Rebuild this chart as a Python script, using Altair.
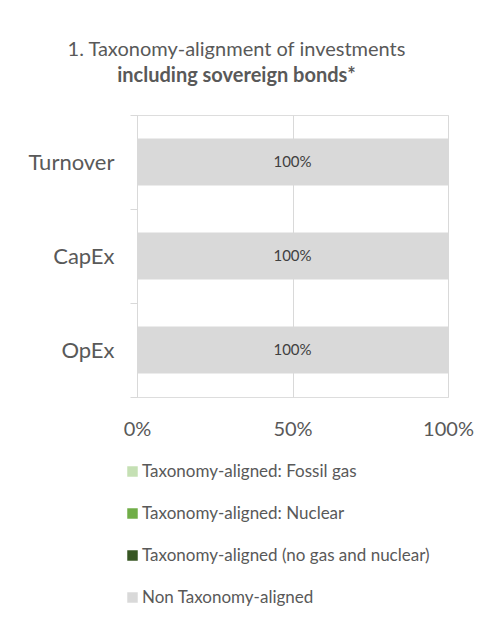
import altair as alt
import pandas as pd

metrics = ["Turnover", "CapEx", "OpEx"]
categories = [
    "Taxonomy-aligned: Fossil gas",
    "Taxonomy-aligned: Nuclear",
    "Taxonomy-aligned (no gas and nuclear)",
    "Non Taxonomy-aligned",
]
colors = ["#C5E0B4", "#70AD47", "#375623", "#D9D9D9"]

fossil_gas = [0, 0, 0]
nuclear = [0, 0, 0]
aligned_other = [0, 0, 0]
non_aligned = [100, 100, 100]

series = [fossil_gas, nuclear, aligned_other, non_aligned]
rows = []
for ci, (cat, vals) in enumerate(zip(categories, series)):
    for m, v in zip(metrics, vals):
        rows.append({"metric": m, "category": cat, "value": v, "idx": ci})
df = pd.DataFrame(rows)

FONT = "Lato"
TXT = "#595959"

y_enc = alt.Y(
    "metric:N",
    sort=metrics,
    scale=alt.Scale(paddingInner=0, paddingOuter=0),
    axis=alt.Axis(
        title=None,
        labelFontSize=22,
        labelColor=TXT,
        labelFont=FONT,
        domainColor="#D9D9D9",
        tickColor="#D9D9D9",
        tickSize=7,
        labelPadding=16,
        tickBand="extent",
        grid=False,
    ),
)

bars = alt.Chart(df).mark_bar(size=47).encode(
    y=y_enc,
    x=alt.X(
        "value:Q",
        stack="zero",
        scale=alt.Scale(domain=[0, 100]),
        axis=alt.Axis(
            title=None,
            values=[0, 50, 100],
            labelExpr="datum.value + '%'",
            labelFlush=False,
            grid=True,
            gridColor="#D9D9D9",
            domain=False,
            ticks=False,
            labelFontSize=20,
            labelColor=TXT,
            labelFont=FONT,
            labelPadding=22,
        ),
    ),
    color=alt.Color(
        "category:N",
        sort=categories,
        scale=alt.Scale(domain=categories, range=colors),
        legend=alt.Legend(
            title=None,
            orient="none",
            legendX=-13,
            legendY=348,
            symbolType="square",
            symbolSize=110,
            symbolStrokeWidth=0,
            labelFontSize=17,
            labelColor=TXT,
            labelFont=FONT,
            labelLimit=0,
            rowPadding=24,
            padding=0,
            labelOffset=1,
            direction="vertical",
        ),
    ),
    order=alt.Order("idx:Q"),
)

labels = (
    alt.Chart(df)
    .transform_stack(
        stack="value",
        groupby=["metric"],
        as_=["x0", "x1"],
        sort=[alt.SortField("idx", order="ascending")],
    )
    .transform_filter("datum.value > 0")
    .transform_calculate(mid="(datum.x0 + datum.x1) / 2", lab="datum.value + '%'")
    .mark_text(fontSize=15, color="#404040", font=FONT)
    .encode(
        y=alt.Y("metric:N", sort=metrics),
        x=alt.X("mid:Q"),
        text="lab:N",
    )
)

chart = (
    alt.layer(bars, labels)
    .properties(
        width=311,
        height=282,
        autosize=alt.AutoSizeParams(type="none"),
        padding={"left": 129, "top": 107, "right": 40, "bottom": 230},
        title=alt.TitleParams(
            text="1. Taxonomy-alignment of investments",
            subtitle="including sovereign bonds*",
            anchor="middle",
            dx=-56,
            offset=18,
            font=FONT,
            fontSize=20,
            fontWeight="normal",
            color=TXT,
            subtitleFont=FONT,
            subtitleFontSize=20,
            subtitleFontWeight="bold",
            subtitleColor=TXT,
            subtitlePadding=6,
        ),
    )
    .configure_view(stroke=None)
    .configure(background="white")
)

chart.save("out.html", embed_options={"renderer": "svg", "actions": False})
